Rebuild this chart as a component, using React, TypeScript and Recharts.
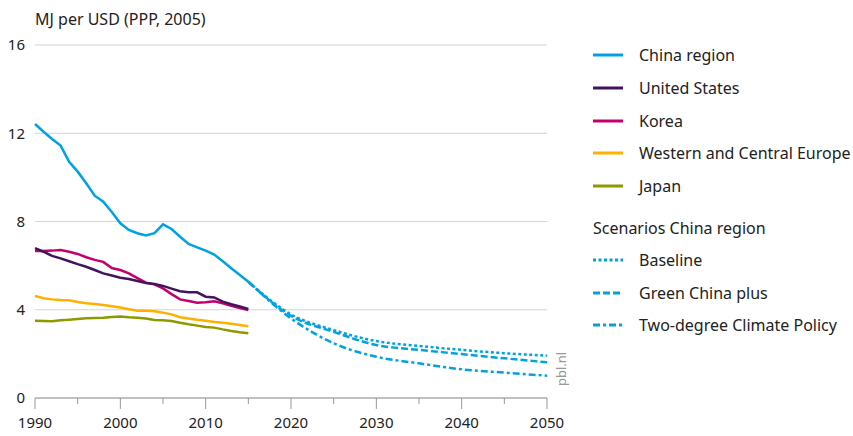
import { CartesianGrid, Line, LineChart, XAxis, YAxis } from 'recharts';

const years = [1990, 1991, 1992, 1993, 1994, 1995, 1996, 1997, 1998, 1999, 2000, 2001, 2002,
  2003, 2004, 2005, 2006, 2007, 2008, 2009, 2010, 2011, 2012, 2013, 2014, 2015];

const china = [12.42, 12.07, 11.74, 11.44, 10.71, 10.26, 9.73, 9.17, 8.9, 8.43, 7.92, 7.62, 7.47,
  7.37, 7.47, 7.87, 7.66, 7.31, 6.98, 6.83, 6.68, 6.5, 6.2, 5.88, 5.58, 5.27];
const unitedStates = [6.79, 6.63, 6.44, 6.33, 6.2, 6.07, 5.95, 5.8, 5.65, 5.55, 5.45, 5.39, 5.3,
  5.21, 5.17, 5.08, 4.96, 4.84, 4.79, 4.79, 4.59, 4.56, 4.37, 4.25, 4.15, 4.04];
const korea = [6.66, 6.66, 6.68, 6.71, 6.63, 6.53, 6.38, 6.26, 6.17, 5.89, 5.8, 5.65, 5.43,
  5.23, 5.15, 4.97, 4.71, 4.47, 4.4, 4.32, 4.34, 4.38, 4.29, 4.18, 4.08, 3.99];
const europe = [4.62, 4.52, 4.47, 4.44, 4.43, 4.35, 4.29, 4.26, 4.22, 4.16, 4.1, 4.02, 3.96,
  3.96, 3.93, 3.87, 3.79, 3.66, 3.6, 3.55, 3.5, 3.45, 3.41, 3.37, 3.31, 3.25];
const japan = [3.5, 3.49, 3.48, 3.52, 3.55, 3.58, 3.61, 3.63, 3.64, 3.67, 3.69, 3.66, 3.64,
  3.6, 3.54, 3.52, 3.49, 3.41, 3.34, 3.28, 3.22, 3.19, 3.11, 3.04, 2.98, 2.93];

const scenarioYears = [2015, 2020, 2025, 2030, 2035, 2040, 2045, 2050];
const baseline = [5.27, 3.79, 3.08, 2.58, 2.36, 2.18, 2.03, 1.92];
const greenChina = [5.27, 3.72, 3.0, 2.4, 2.18, 1.99, 1.8, 1.62];
const twoDegree = [5.27, 3.61, 2.48, 1.87, 1.57, 1.3, 1.15, 1.01];

const xTicks = [1990, 1995, 2000, 2005, 2010, 2015, 2020, 2025, 2030, 2035, 2040, 2045, 2050];
const yTicks = [0, 4, 8, 12, 16];

const BLUE = '#00a3e0';
const FONT = '"Noto Sans", sans-serif';

type Row = { year: number; [k: string]: number | undefined };

const rowMap = new Map<number, Row>();
const getRow = (y: number) => {
  if (!rowMap.has(y)) rowMap.set(y, { year: y });
  return rowMap.get(y)!;
};
years.forEach((y, i) => {
  const r = getRow(y);
  r.china = china[i];
  r.us = unitedStates[i];
  r.korea = korea[i];
  r.europe = europe[i];
  r.japan = japan[i];
});
scenarioYears.forEach((y, i) => {
  const r = getRow(y);
  r.baseline = baseline[i];
  r.green = greenChina[i];
  r.twoDegree = twoDegree[i];
});
const data = Array.from(rowMap.values()).sort((a, b) => a.year - b.year);

function XTick(props: any) {
  const { x, y, payload } = props;
  const major = payload.value % 10 === 0;
  return (
    <g>
      <line x1={x} x2={x} y1={y - 8} y2={y - 8 + (major ? 11 : 6)} stroke="#999" strokeWidth={1} />
      {major && (
        <text x={x} y={y + 22} textAnchor="middle" fill="#222" fontSize={15} fontFamily={FONT}>
          {payload.value}
        </text>
      )}
    </g>
  );
}

const legendItems = [
  { label: 'China region', color: BLUE, dash: undefined as string | undefined, top: 55 },
  { label: 'United States', color: '#42145f', dash: undefined, top: 88 },
  { label: 'Korea', color: '#c2006e', dash: undefined, top: 121 },
  { label: 'Western and Central Europe', color: '#ffb000', dash: undefined, top: 153 },
  { label: 'Japan', color: '#8c9a00', dash: undefined, top: 186 },
  { label: 'Baseline', color: BLUE, dash: '3 2.5', top: 260 },
  { label: 'Green China plus', color: BLUE, dash: '7 3', top: 293 },
  { label: 'Two-degree Climate Policy', color: BLUE, dash: '7 3 3 3', top: 325 },
];

export default function App() {
  return (
    <div style={{ position: 'absolute', left: 0, top: 0, width: 853, height: 436, background: '#fff', fontFamily: FONT }}>
      <div style={{ position: 'absolute', left: 35, top: 8, fontSize: 16, color: '#222', whiteSpace: 'nowrap' }}>
        MJ per USD (PPP, 2005)
      </div>
      <LineChart width={853} height={436} data={data} margin={{ top: 45, right: 306, left: 0, bottom: 8 }}>
        <CartesianGrid vertical={false} stroke="#d4d4d4" />
        <XAxis
          dataKey="year"
          type="number"
          domain={[1990, 2050]}
          ticks={xTicks}
          interval={0}
          height={30}
          tick={<XTick />}
          tickLine={false}
          axisLine={{ stroke: '#999' }}
        />
        <YAxis
          domain={[0, 16]}
          ticks={yTicks}
          width={35}
          axisLine={false}
          tickLine={false}
          tickMargin={4}
          tick={{ fill: '#222', fontSize: 15, fontFamily: FONT }}
        />
        <Line dataKey="japan" stroke="#8c9a00" strokeWidth={2.5} dot={false} isAnimationActive={false} />
        <Line dataKey="europe" stroke="#ffb000" strokeWidth={2.5} dot={false} isAnimationActive={false} />
        <Line dataKey="korea" stroke="#c2006e" strokeWidth={2.5} dot={false} isAnimationActive={false} />
        <Line dataKey="us" stroke="#42145f" strokeWidth={2.5} dot={false} isAnimationActive={false} />
        <Line dataKey="china" stroke={BLUE} strokeWidth={2.5} dot={false} isAnimationActive={false} />
        <Line dataKey="baseline" type="monotone" stroke={BLUE} strokeWidth={2.5} strokeDasharray="3 2.5" dot={false} isAnimationActive={false} />
        <Line dataKey="green" type="monotone" stroke={BLUE} strokeWidth={2.5} strokeDasharray="7 3" dot={false} isAnimationActive={false} />
        <Line dataKey="twoDegree" type="monotone" stroke={BLUE} strokeWidth={2.5} strokeDasharray="7 3 3 3" dot={false} isAnimationActive={false} />
      </LineChart>
      {legendItems.map((it) => (
        <div key={it.label} style={{ position: 'absolute', left: 593, top: it.top - 10, height: 20, display: 'flex', alignItems: 'center', fontSize: 16, color: '#222', whiteSpace: 'nowrap' }}>
          <svg width={30} height={4} style={{ marginRight: 16 }}>
            <line x1={0} x2={30} y1={2} y2={2} stroke={it.color} strokeWidth={3} strokeDasharray={it.dash} />
          </svg>
          {it.label}
        </div>
      ))}
      <div style={{ position: 'absolute', left: 593, top: 217, fontSize: 16, color: '#222', whiteSpace: 'nowrap' }}>
        Scenarios China region
      </div>
      <div style={{ position: 'absolute', left: 552, top: 386, fontSize: 13, color: '#999', transform: 'rotate(-90deg)', transformOrigin: 'left top', whiteSpace: 'nowrap' }}>
        pbl.nl
      </div>
    </div>
  );
}
